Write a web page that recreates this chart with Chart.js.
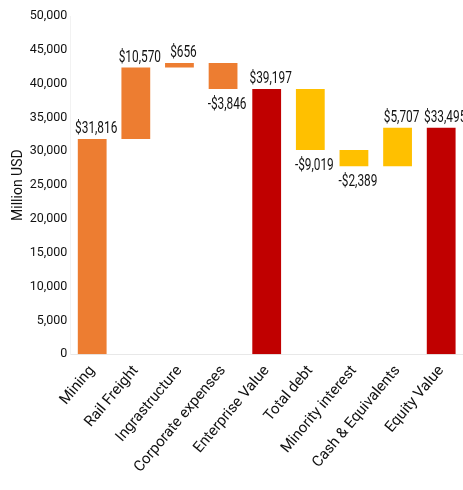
<!DOCTYPE html>
<html>
<head>
<meta charset="utf-8">
<script src="https://cdn.jsdelivr.net/npm/chart.js@4"></script>
<style>
  html, body { margin: 0; padding: 0; background: #fff; }
  #wrap { width: 463px; height: 490px; }
</style>
</head>
<body>
<div id="wrap"><canvas id="waterfall"></canvas></div>
<script>
const categories = ["Mining", "Rail Freight", "Ingrastructure", "Corporate expenses",
  "Enterprise Value", "Total debt", "Minority interest", "Cash & Equivalents", "Equity Value"];
const changes = [31816, 10570, 656, -3846, 39197, -9019, -2389, 5707, 33495];
const isTotal = [false, false, false, false, true, false, false, false, true];
const yTicks = [0, 5000, 10000, 15000, 20000, 25000, 30000, 35000, 40000, 45000, 50000];

const ORANGE = '#ED7D31', RED = '#C00000', YELLOW = '#FFC000';
const FONT = "'Roboto', sans-serif";

// floating bars: [start, end]
let running = 0;
const spans = changes.map((v, i) => {
  if (isTotal[i]) { running = v; return [0, v]; }
  const s = running; running += v; return [s, running];
});
const colors = changes.map((v, i) => isTotal[i] ? RED : (i < 4 ? ORANGE : YELLOW));

const fmt = v => (v < 0 ? '-$' : '$') + Math.abs(v).toLocaleString('en-US');

// value labels, squeezed horizontally to look like the condensed font of the original
const valueLabels = {
  id: 'valueLabels',
  afterDatasetsDraw(chart) {
    const ctx = chart.ctx;
    const meta = chart.getDatasetMeta(0);
    const y = chart.scales.y;
    const sx = 0.74;
    ctx.save();
    ctx.font = "16px " + FONT;
    ctx.fillStyle = '#111';
    ctx.textAlign = 'center';
    meta.data.forEach((bar, i) => {
      const v = changes[i];
      let ty;
      if (v >= 0) {
        ctx.textBaseline = 'bottom';
        ty = y.getPixelForValue(Math.max(...spans[i])) - 2;
      } else {
        ctx.textBaseline = 'top';
        ty = y.getPixelForValue(Math.min(...spans[i])) + 8;
      }
      ctx.save();
      ctx.translate(bar.x + 4, ty);
      ctx.scale(sx, 1);
      ctx.fillText(fmt(v), 0, 0);
      ctx.restore();
    });
    ctx.restore();
  }
};

new Chart(document.getElementById('waterfall'), {
  type: 'bar',
  data: {
    labels: categories,
    datasets: [{
      data: spans,
      backgroundColor: colors,
      borderSkipped: false,
      categoryPercentage: 1,
      barPercentage: 0.66
    }]
  },
  options: {
    responsive: true,
    maintainAspectRatio: false,
    animation: false,
    layout: { padding: { top: 16, right: 0, left: 10, bottom: 14 } },
    plugins: { legend: { display: false }, tooltip: { enabled: false } },
    scales: {
      x: {
        grid: { display: false },
        border: { color: '#e8e8e8' },
        ticks: { color: '#111', font: { family: FONT, size: 15 }, minRotation: 50, maxRotation: 50, padding: 0 }
      },
      y: {
        min: 0, max: 50000,
        afterBuildTicks: axis => { axis.ticks = yTicks.map(v => ({ value: v })); },
        grid: { display: false, drawTicks: false },
        border: { color: '#f2f2f2' },
        ticks: { color: '#111', font: { family: FONT, size: 12.5 }, padding: 3,
          callback: v => v.toLocaleString('en-US') },
        title: { display: true, text: 'Million USD', color: '#111', font: { family: FONT, size: 14 }, padding: 0 }
      }
    }
  },
  plugins: [valueLabels]
});
</script>
</body>
</html>
